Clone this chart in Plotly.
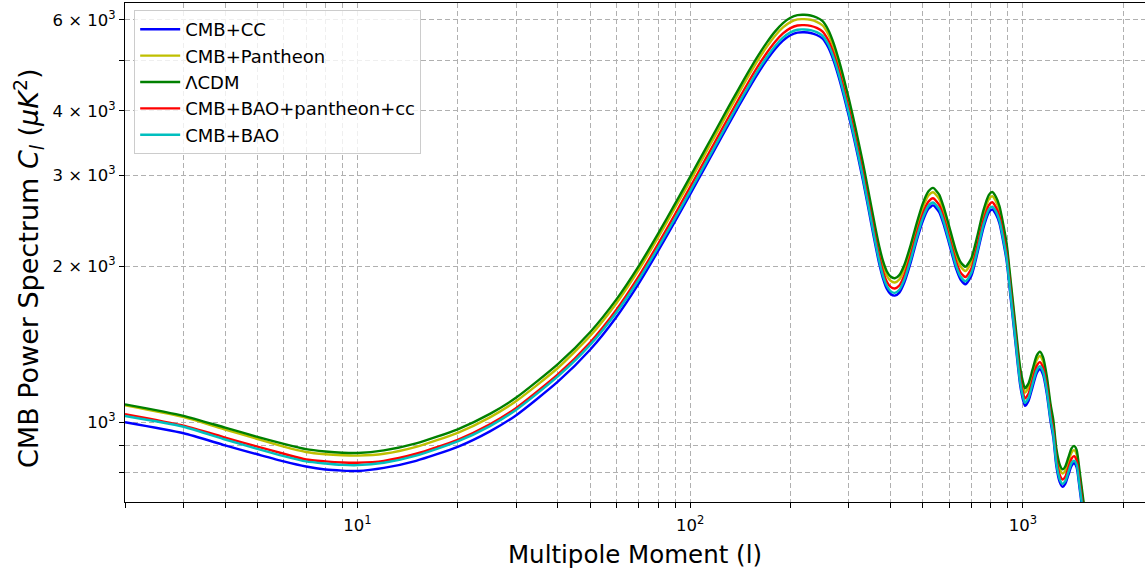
import math
import plotly.graph_objects as go

# Multipole moments
ell = [2, 3, 4, 5, 6, 7, 8, 9, 10, 12, 15, 20, 25, 30, 40, 50, 60, 70, 80, 90,
       100, 110, 120, 130, 140, 150, 160, 170, 180, 190, 200, 210, 220, 230, 240,
       250, 260, 270, 280, 290, 300, 310, 320, 330, 340, 350, 360, 370, 380, 390,
       400, 412, 425, 440, 460, 480, 500, 520, 537, 560, 580, 600, 630, 650, 672,
       700, 730, 760, 790, 809, 830, 850, 870, 893, 920, 950, 980, 1000, 1014,
       1040, 1068, 1100, 1125, 1150, 1180, 1210, 1234, 1260, 1290, 1316, 1340,
       1368, 1400, 1424, 1450, 1480, 1519, 1560, 1600]

cl_cmb_cc = [999, 951, 901, 866, 839, 820, 809, 805, 804, 815, 841, 895, 959, 1031,
             1197, 1380, 1597, 1853, 2140, 2445, 2761, 3087, 3417, 3754, 4088, 4417,
             4733, 5022, 5274, 5472, 5604, 5670, 5678, 5661, 5610, 5519, 5307, 4996,
             4629, 4255, 3897, 3557, 3238, 2947, 2670, 2420, 2202, 2022, 1892, 1809,
             1769, 1756, 1780, 1862, 2037, 2250, 2448, 2586, 2625, 2548, 2392, 2214,
             1978, 1885, 1848, 1919, 2124, 2370, 2546, 2578, 2521, 2422, 2255, 2052,
             1719, 1419, 1184, 1105, 1075, 1100, 1166, 1243, 1265, 1234, 1133, 1004,
             933, 822, 765, 749, 759, 788, 822, 832, 817, 744, 653, 572, 500]

cl_cmb_pantheon = [1077, 1022, 967, 927, 896, 875, 866, 862, 861, 868, 895, 953, 1021,
                   1098, 1272, 1467, 1698, 1969, 2274, 2598, 2928, 3274, 3624, 3981,
                   4335, 4684, 5020, 5326, 5594, 5804, 5943, 6014, 6021, 6004, 5950,
                   5853, 5628, 5298, 4909, 4513, 4133, 3772, 3434, 3125, 2831, 2566,
                   2335, 2144, 2006, 1919, 1876, 1862, 1887, 1975, 2160, 2386, 2597,
                   2743, 2784, 2703, 2537, 2348, 2097, 1999, 1960, 2036, 2252, 2513,
                   2700, 2734, 2673, 2568, 2392, 2176, 1823, 1505, 1256, 1172, 1140,
                   1166, 1237, 1318, 1342, 1309, 1202, 1064, 990, 872, 811, 795, 804,
                   836, 872, 882, 866, 789, 693, 606, 531]

cl_lcdm = [1082, 1028, 975, 936, 907, 886, 877, 872, 871, 881, 909, 968, 1037, 1115,
           1294, 1492, 1727, 2003, 2313, 2643, 2985, 3337, 3694, 4058, 4419, 4775,
           5117, 5429, 5702, 5916, 6058, 6130, 6138, 6120, 6065, 5966, 5737, 5401,
           5004, 4600, 4213, 3845, 3500, 3186, 2886, 2616, 2380, 2186, 2045, 1956,
           1912, 1898, 1924, 2013, 2202, 2432, 2647, 2796, 2838, 2755, 2586, 2393,
           2138, 2038, 1998, 2075, 2296, 2562, 2752, 2787, 2725, 2618, 2438, 2218,
           1858, 1534, 1280, 1195, 1162, 1189, 1261, 1344, 1368, 1334, 1225, 1085,
           1009, 889, 827, 810, 820, 852, 889, 899, 883, 804, 706, 618, 541]

cl_cmb_bao_pantheon_cc = [1036, 984, 933, 896, 868, 846, 839, 835, 834, 841, 868, 924,
                          990, 1065, 1236, 1425, 1649, 1913, 2209, 2524, 2851, 3187,
                          3528, 3875, 4220, 4560, 4887, 5185, 5445, 5650, 5785, 5854,
                          5862, 5845, 5792, 5698, 5479, 5158, 4779, 4393, 4023, 3672,
                          3343, 3043, 2756, 2498, 2273, 2088, 1953, 1868, 1826, 1813,
                          1837, 1922, 2103, 2323, 2528, 2670, 2710, 2631, 2470, 2285,
                          2042, 1946, 1908, 1982, 2193, 2447, 2628, 2662, 2602, 2500,
                          2328, 2118, 1774, 1465, 1222, 1141, 1110, 1135, 1204, 1284,
                          1306, 1274, 1170, 1036, 964, 849, 790, 774, 783, 814, 849,
                          859, 843, 768, 674, 590, 517]

cl_cmb_bao = [1027, 979, 925, 887, 859, 839, 831, 826, 825, 834, 861, 917, 982, 1056,
              1225, 1410, 1629, 1885, 2174, 2479, 2797, 3127, 3461, 3802, 4141, 4474,
              4795, 5087, 5343, 5543, 5676, 5744, 5751, 5734, 5683, 5590, 5376, 5061,
              4689, 4310, 3948, 3603, 3280, 2985, 2704, 2451, 2230, 2048, 1916, 1833,
              1792, 1778, 1803, 1886, 2063, 2279, 2480, 2620, 2659, 2581, 2423, 2242,
              2003, 1910, 1872, 1944, 2151, 2401, 2579, 2611, 2553, 2453, 2284, 2078,
              1741, 1437, 1199, 1120, 1089, 1114, 1182, 1259, 1282, 1250, 1148, 1017,
              945, 833, 775, 759, 768, 798, 833, 842, 827, 753, 662, 579, 507]

series_names = ["CMB+CC", "CMB+Pantheon", "ΛCDM", "CMB+BAO+pantheon+cc", "CMB+BAO"]
series_values = [cl_cmb_cc, cl_cmb_pantheon, cl_lcdm, cl_cmb_bao_pantheon_cc, cl_cmb_bao]
series_colors = ["#0000ff", "#bfbf00", "#008000", "#ff0000", "#00bfbf"]

x_tickvals = [2, 3, 4, 5, 6, 7, 8, 9, 10, 20, 30, 40, 50, 60, 70, 80, 90, 100,
              200, 300, 400, 500, 600, 700, 800, 900, 1000, 2000]
x_ticktext = ["10<sup>1</sup>" if v == 10 else "10<sup>2</sup>" if v == 100
              else "10<sup>3</sup>" if v == 1000 else "" for v in x_tickvals]

y_tickvals = [800, 900, 1000, 2000, 3000, 4000, 5000, 6000]
y_ticktext = ["", "", "10<sup>3</sup>", "2 × 10<sup>3</sup>", "3 × 10<sup>3</sup>",
              "4 × 10<sup>3</sup>", "", "6 × 10<sup>3</sup>"]

x_title = "Multipole Moment (l)"
y_title = "CMB Power Spectrum <i>C</i><sub><i>l</i></sub> (<i>μK</i><sup>2</sup>)"

fig = go.Figure()
for name, vals, col in zip(series_names, series_values, series_colors):
    fig.add_trace(go.Scatter(
        x=ell, y=vals, mode="lines", name=name, legendgroup=name,
        line=dict(color=col, width=2.4, shape="spline", smoothing=0.6),
    ))

FONT = "DejaVu Sans"
grid_kw = dict(showgrid=True, gridcolor="#b0b0b0", gridwidth=1.1, griddash="5px,3px")

fig.update_layout(
    width=1145, height=571,
    margin=dict(l=125, r=0, t=3, b=69, autoexpand=False),
    paper_bgcolor="white", plot_bgcolor="white",
    font=dict(family=FONT, color="black", size=16),
    showlegend=True,
    legend=dict(
        x=0.009, y=0.986, xanchor="left", yanchor="top",
        bgcolor="rgba(255,255,255,0.8)", bordercolor="#cccccc", borderwidth=1,
        font=dict(family=FONT, size=18, color="black"),
        tracegroupgap=0, itemwidth=40,
    ),
    xaxis=dict(
        type="log", automargin=False,
        range=[math.log10(2), 3.3669],
        tickmode="array", tickvals=x_tickvals, ticktext=x_ticktext,
        ticks="outside", ticklen=5, tickwidth=1, tickcolor="black",
        ticklabelstandoff=3,
        showline=True, linecolor="black", linewidth=1, mirror=True,
        zeroline=False,
        tickfont=dict(family=FONT, size=16.5),
        title=dict(text=x_title, font=dict(family=FONT, size=24.5), standoff=12),
        **grid_kw,
    ),
    yaxis=dict(
        type="log", automargin=False,
        range=[2.84517, 3.81091],
        tickmode="array", tickvals=y_tickvals, ticktext=y_ticktext,
        ticks="outside", ticklen=5, tickwidth=1, tickcolor="black",
        showline=True, linecolor="black", linewidth=1,
        zeroline=False,
        tickfont=dict(family=FONT, size=16.5),
        **grid_kw,
    ),
    annotations=[dict(
        text=y_title, textangle=-90, showarrow=False,
        xref="paper", yref="paper", x=(28 - 125) / 1020, y=(502 - 268) / 499,
        xanchor="center", yanchor="middle",
        font=dict(family=FONT, size=27, color="black"),
    )],
)

fig.write_html("out.html", config={"displayModeBar": False},
               post_script="document.body.style.margin='0';")
